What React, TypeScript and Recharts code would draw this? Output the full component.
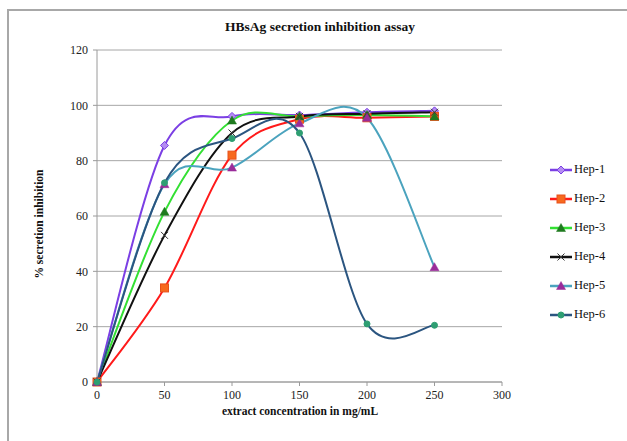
import React from 'react';
import { LineChart, Line, XAxis, YAxis, CartesianGrid } from 'recharts';

const concentrations = [0, 50, 100, 150, 200, 250];
const hep1 = [0, 85.5, 96, 96.5, 97.5, 98];
const hep2 = [0, 34, 82, 95, 95.5, 96];
const hep3 = [0, 61.5, 94.5, 96, 96.5, 96];
const hep4 = [0, 53, 90, 96, 97, 97.5];
const hep5 = [0, 71.5, 77.5, 93.5, 95.5, 41.5];
const hep6 = [0, 72, 88, 90, 21, 20.5];
const xTicks = [0, 50, 100, 150, 200, 250, 300];
const yTicks = [0, 20, 40, 60, 80, 100, 120];

const FONT = '"Liberation Serif", "DejaVu Serif", serif';

type Shape = 'diamond' | 'square' | 'triangle' | 'x' | 'circle';

const SERIES: { key: string; name: string; values: number[]; line: string; fill: string; shape: Shape }[] = [
  { key: 'h1', name: 'Hep-1', values: hep1, line: '#7B3FE4', fill: '#B48CF2', shape: 'diamond' },
  { key: 'h2', name: 'Hep-2', values: hep2, line: '#FF1A1A', fill: '#F7691E', shape: 'square' },
  { key: 'h3', name: 'Hep-3', values: hep3, line: '#33E033', fill: '#1F7A1F', shape: 'triangle' },
  { key: 'h4', name: 'Hep-4', values: hep4, line: '#111111', fill: '#333333', shape: 'x' },
  { key: 'h5', name: 'Hep-5', values: hep5, line: '#4BA3BE', fill: '#9A2C9A', shape: 'triangle' },
  { key: 'h6', name: 'Hep-6', values: hep6, line: '#2B5580', fill: '#2E9E72', shape: 'circle' },
];

const data = concentrations.map((c, i) => {
  const row: Record<string, number> = { c };
  SERIES.forEach(s => { row[s.key] = s.values[i]; });
  return row;
});

// Excel-like smoothed line: cubic bezier through the points (catmull-rom, uniform)
function smoothCurve(context: any) {
  let pts: number[][] = [];
  return {
    areaStart() {},
    areaEnd() {},
    lineStart() { pts = []; },
    point(x: number, y: number) { pts.push([+x, +y]); },
    lineEnd() {
      if (!pts.length) return;
      context.moveTo(pts[0][0], pts[0][1]);
      for (let i = 0; i < pts.length - 1; i++) {
        const p0 = pts[i - 1] || pts[i];
        const p1 = pts[i];
        const p2 = pts[i + 1];
        const p3 = pts[i + 2] || pts[i + 1];
        context.bezierCurveTo(
          p1[0] + (p2[0] - p0[0]) / 6, p1[1] + (p2[1] - p0[1]) / 6,
          p2[0] - (p3[0] - p1[0]) / 6, p2[1] - (p3[1] - p1[1]) / 6,
          p2[0], p2[1],
        );
      }
    },
  };
}

function Marker({ cx, cy, shape, fill, line }: { cx: number; cy: number; shape: Shape; fill: string; line: string }) {
  if (cx == null || cy == null) return null;
  switch (shape) {
    case 'diamond':
      return <path d={`M${cx},${cy - 4}L${cx + 4},${cy}L${cx},${cy + 4}L${cx - 4},${cy}Z`} fill={fill} stroke={line} strokeWidth={1} />;
    case 'square':
      return <rect x={cx - 4} y={cy - 4} width={8} height={8} fill={fill} stroke="#E8501A" strokeWidth={1} />;
    case 'triangle':
      return <path d={`M${cx},${cy - 4.5}L${cx + 4.5},${cy + 3.5}L${cx - 4.5},${cy + 3.5}Z`} fill={fill} stroke={fill} strokeWidth={0.5} />;
    case 'x':
      return <path d={`M${cx - 3.5},${cy - 3.5}L${cx + 3.5},${cy + 3.5}M${cx + 3.5},${cy - 3.5}L${cx - 3.5},${cy + 3.5}`} stroke={fill} strokeWidth={1} fill="none" />;
    case 'circle':
    default:
      return <circle cx={cx} cy={cy} r={3} fill={fill} stroke={fill} />;
  }
}

function LegendBox() {
  return (
    <div style={{ position: 'absolute', left: 549, top: 155, fontFamily: FONT, fontSize: 12.5, color: '#111' }}>
      {SERIES.map(s => (
        <div key={s.key} style={{ display: 'flex', alignItems: 'center', height: 29 }}>
          <svg width={24} height={12} style={{ marginRight: 1 }}>
            <line x1={1} y1={6} x2={23} y2={6} stroke={s.line} strokeWidth={2.5} />
            <Marker cx={12} cy={6} shape={s.shape} fill={s.fill} line={s.line} />
          </svg>
          <span>{s.name}</span>
        </div>
      ))}
    </div>
  );
}

export default function App() {
  const tick = { fill: '#222', fontSize: 12, fontFamily: FONT };
  return (
    <div style={{ position: 'fixed', left: 0, top: 0, width: 627, height: 441, background: '#fff', overflow: 'hidden' }}>
      <div style={{ position: 'absolute', left: 7, top: 9, width: 660, height: 460, border: '2px solid #a8a8a8' }} />
      <div style={{ position: 'absolute', left: 0, top: 19, width: 640, textAlign: 'center', fontFamily: FONT, fontWeight: 'bold', fontSize: 13.5, color: '#111' }}>
        HBsAg secretion inhibition assay
      </div>
      <div style={{ position: 'absolute', left: 39, top: 224, transform: 'translate(-50%, -50%) rotate(-90deg)', whiteSpace: 'nowrap', fontFamily: FONT, fontWeight: 'bold', fontSize: 11.5, color: '#111' }}>
        % secretion inhibition
      </div>
      <div style={{ position: 'absolute', left: 300, top: 405, transform: 'translateX(-50%)', whiteSpace: 'nowrap', fontFamily: FONT, fontWeight: 'bold', fontSize: 11.5, color: '#111' }}>
        extract concentration in mg/mL
      </div>
      <div style={{ position: 'absolute', left: 0, top: 0 }}>
        <LineChart width={627} height={441} data={data} margin={{ top: 50, right: 125, left: 57, bottom: 29 }}>
          <CartesianGrid vertical={false} stroke="#a6a6a6" strokeWidth={1} />
          <XAxis
            dataKey="c"
            type="number"
            domain={[0, 300]}
            ticks={xTicks}
            height={30}
            tick={tick}
            tickSize={4}
            tickMargin={4}
            stroke="#9a9a9a"
            tickLine={{ stroke: '#9a9a9a' }}
            axisLine={{ stroke: '#9a9a9a' }}
            interval={0}
          />
          <YAxis
            type="number"
            domain={[0, 120]}
            ticks={yTicks}
            width={40}
            tick={tick}
            tickSize={4}
            tickMargin={5}
            stroke="#9a9a9a"
            tickLine={{ stroke: '#9a9a9a' }}
            axisLine={{ stroke: '#9a9a9a' }}
            interval={0}
          />
          {SERIES.map(s => (
            <Line
              key={s.key}
              dataKey={s.key}
              name={s.name}
              type={smoothCurve as any}
              stroke={s.line}
              strokeWidth={2}
              isAnimationActive={false}
              dot={(p: any) => <Marker key={`${s.key}-${p.index}`} cx={p.cx} cy={p.cy} shape={s.shape} fill={s.fill} line={s.line} />}
              activeDot={false}
            />
          ))}
        </LineChart>
      </div>
      <LegendBox />
    </div>
  );
}
